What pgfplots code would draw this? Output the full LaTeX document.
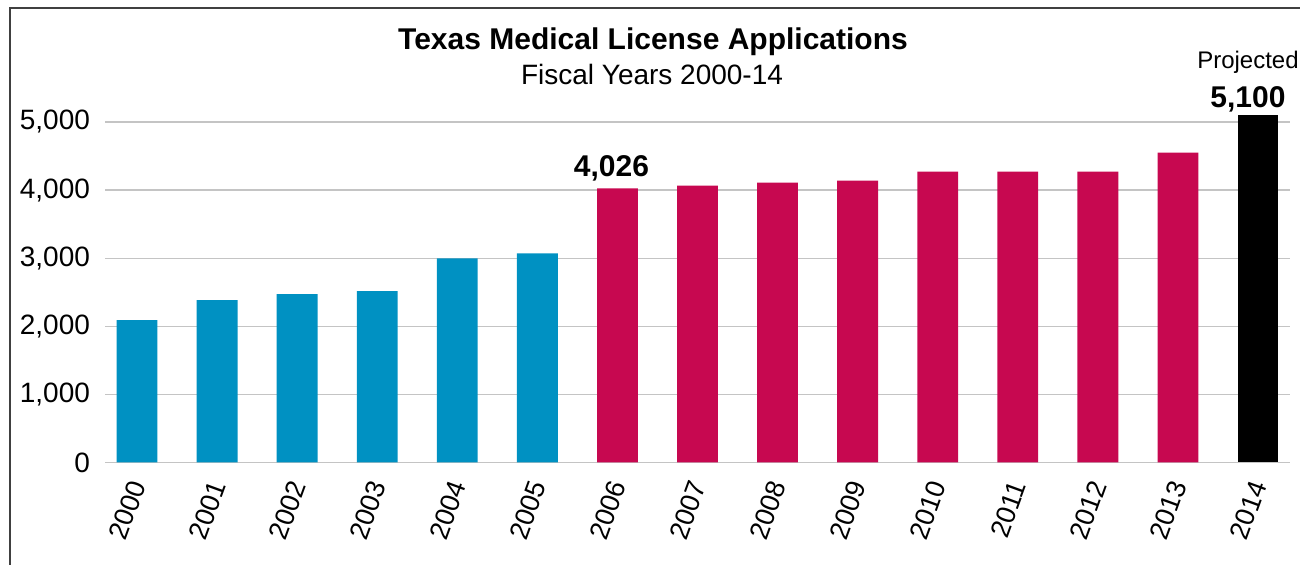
\documentclass[border=0pt]{standalone}
\usepackage{fontspec}
\setmainfont{Liberation Sans}
\usepackage{pgfplots}
\pgfplotsset{compat=1.18}
\definecolor{txblue}{RGB}{0,145,194}
\definecolor{txred}{RGB}{199,8,80}
\definecolor{gridgray}{RGB}{196,196,196}

\begin{document}
\begin{tikzpicture}
\useasboundingbox (0,0) rectangle (650pt,282.5pt);
\draw[black!75,line width=0.7pt] (5pt,-2pt) -- (5pt,278.5pt) -- (652pt,278.5pt);
\node[anchor=base,font=\fontsize{15}{17}\selectfont\bfseries] at (326.5pt,257.5pt) {Texas Medical License Applications};
\node[anchor=base,font=\fontsize{14}{16}\selectfont] at (326pt,240pt) {Fiscal Years 2000-14};
\begin{axis}[
  at={(52.5pt,51.25pt)},anchor=south west,
  scale only axis,width=592.5pt,height=175.4pt,
  xmin=-0.4,xmax=14.4,ymin=0,ymax=5150,
  axis line style={draw=none},
  tick style={draw=none},
  ytick={0,1000,2000,3000,4000,5000},
  xtick={0,...,14},
  xticklabels={2000,2001,2002,2003,2004,2005,2006,2007,2008,2009,2010,2011,2012,2013,2014},
  ymajorgrids=true,
  major grid style={gridgray,line width=0.6pt},
  major tick length=0pt,
  /pgf/number format/assume math mode=true,
  /pgf/number format/1000 sep={,},
  yticklabel style={font=\fontsize{14}{16}\selectfont,xshift=-4pt},
  xticklabel style={font=\fontsize{13.5}{16}\selectfont,xshift=1.5pt,yshift=-6.5pt,rotate=70,anchor=east},
  ybar,bar width=0.51,
  every axis plot/.append style={bar shift=0pt,draw=none},
  clip=false,
]
\addplot[fill=txblue] coordinates {(0,2090) (1,2385) (2,2470) (3,2515) (4,2997) (5,3070)};
\addplot[fill=txred] coordinates {(6,4026) (7,4064) (8,4108) (9,4137) (10,4269) (11,4269) (12,4269) (13,4550)};
\addplot[fill=black] coordinates {(14,5100)};
\node[anchor=base,font=\fontsize{15}{17}\selectfont\bfseries,xshift=-3pt,yshift=6pt] at (axis cs:6,4026) {4,026};
\node[anchor=base,font=\fontsize{15}{17}\selectfont\bfseries,xshift=-5pt,yshift=4pt] at (axis cs:14,5100) {5,100};
\node[anchor=base,font=\fontsize{12}{14}\selectfont,xshift=-5pt,yshift=23.5pt] at (axis cs:14,5100) {Projected};
\end{axis}
\end{tikzpicture}
\end{document}
